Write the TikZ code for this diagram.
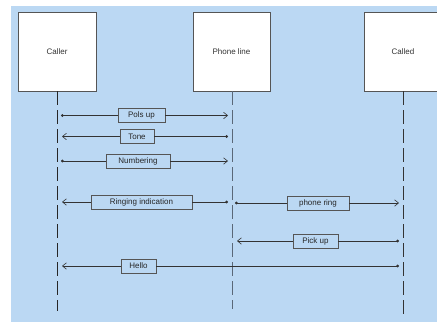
\documentclass[tikz,border=0pt]{standalone}
\usepackage{fontspec}
\setmainfont{Liberation Sans}
\usetikzlibrary{arrows.meta}
\definecolor{bg}{HTML}{BBD8F3}
\definecolor{boxgray}{HTML}{555555}
\definecolor{linegray}{HTML}{333333}
\definecolor{phonegray}{HTML}{5A6878}
\begin{document}
\begin{tikzpicture}[x=1pt,y=-1pt,
  actor/.style={draw=boxgray, line width=0.9pt, fill=white, minimum width=78pt, minimum height=79pt, inner sep=0pt, font=\fontsize{8}{9}\selectfont, text=black!80},
  lifeline/.style={line width=1pt, dash pattern=on 14pt off 5pt},
  msg/.style={draw=linegray, line width=0.7pt},
  dotstart/.style={{Circle[length=2.8pt]}-},
  barbend/.style={-{Straight Barb[length=4pt,width=6.5pt,line width=0.6pt]}},
  lbl/.style={draw=boxgray, line width=0.8pt, fill=bg, minimum height=14pt, inner sep=1pt, font=\fontsize{8}{9}\selectfont, text=black!85}]
\clip (0,0) rectangle (437,322);
\fill[bg] (11,6) rectangle (437,322);
% actors
\node[actor] (caller) at (57,51.5) {Caller};
\node[actor, minimum width=77pt] (phone) at (231.5,51.5) {Phone line};
\node[actor] (called) at (403,51.5) {Called};
% lifeline ends
\coordinate (callerend) at (57,311);
\coordinate (phonetop) at (232,91);
\coordinate (phoneend) at (232,309);
\coordinate (calledend) at (403,318);
\draw[lifeline, draw=black!85] (caller.south) -- (callerend);
\draw[lifeline, draw=phonegray] (phonetop) -- (phoneend);
\draw[lifeline, draw=black!80] (called.south) -- (calledend);
% message endpoints
\coordinate (m1s) at (61,115.5);   \coordinate (m1e) at (228,115.5);
\coordinate (m2s) at (228,136.5);  \coordinate (m2e) at (62,136.5);
\coordinate (m3s) at (61,161);     \coordinate (m3e) at (228,161);
\coordinate (m4s) at (228,202);    \coordinate (m4e) at (62,202);
\coordinate (m5s) at (235,203);    \coordinate (m5e) at (399,203);
\coordinate (m6s) at (399,241);    \coordinate (m6e) at (237,241);
\coordinate (m7s) at (399,266);    \coordinate (m7e) at (62,266);
% labels
\node[lbl, minimum width=47pt] (l1) at (141.5,115.5) {Pols up};
\node[lbl, minimum width=34pt] (l2) at (137,136.5) {Tone};
\node[lbl, minimum width=64pt] (l3) at (138,161) {Numbering};
\node[lbl, minimum width=101pt] (l4) at (141.5,202) {Ringing indication};
\node[lbl, minimum width=62pt] (l5) at (318,203) {phone ring};
\node[lbl, minimum width=45pt] (l6) at (315.5,241) {Pick up};
\node[lbl, minimum width=35pt] (l7) at (138.5,266) {Hello};
% messages
\draw[msg, dotstart] (m1s) -- (l1.west);
\draw[msg, barbend] (l1.east) -- (m1e);
\draw[msg, dotstart] (m2s) -- (l2.east);
\draw[msg, barbend] (l2.west) -- (m2e);
\draw[msg, dotstart] (m3s) -- (l3.west);
\draw[msg, barbend] (l3.east) -- (m3e);
\draw[msg, dotstart] (m4s) -- (l4.east);
\draw[msg, barbend] (l4.west) -- (m4e);
\draw[msg, dotstart] (m5s) -- (l5.west);
\draw[msg, barbend] (l5.east) -- (m5e);
\draw[msg, dotstart] (m6s) -- (l6.east);
\draw[msg, barbend] (l6.west) -- (m6e);
\draw[msg, dotstart] (m7s) -- (l7.east);
\draw[msg, barbend] (l7.west) -- (m7e);
\end{tikzpicture}
\end{document}
